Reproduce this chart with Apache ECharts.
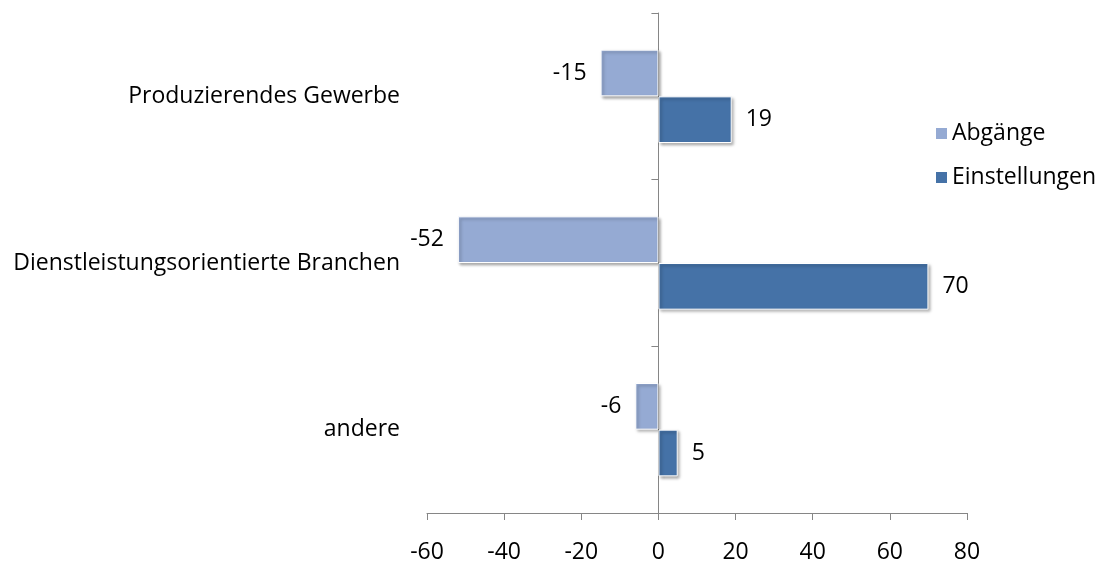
<!DOCTYPE html>
<html><head><meta charset="utf-8">
<script src="https://cdn.jsdelivr.net/npm/echarts@6/dist/echarts.min.js"></script>
<style>html,body{margin:0;padding:0;background:#fff}#c{width:1097px;height:565px}</style>
</head><body><div id="c"></div>
<script>
var categories = ['Produzierendes Gewerbe', 'Dienstleistungsorientierte Branchen', 'andere'];
var abgaenge = [-15, -52, -6];
var einstellungen = [19, 70, 5];
var xTicks = [-60, -40, -20, 0, 20, 40, 60, 80];

var FONT = 'Open Sans';
var FS = 23;
var axisColor = '#868686';

function mkData(arr) {
  return arr.map(function (v) {
    return { value: v, label: { position: v < 0 ? 'left' : 'right' } };
  });
}
var barStyle = function (c) {
  return {
    color: c, borderColor: '#ffffff', borderWidth: 1,
    shadowColor: 'rgba(0,0,0,0.35)', shadowBlur: 3, shadowOffsetX: 2, shadowOffsetY: 2
  };
};
var chart = echarts.init(document.getElementById('c'), null, { renderer: 'canvas' });
chart.setOption({
  animation: false,
  textStyle: { fontFamily: FONT },
  grid: { left: 427, right: 130, top: 13, bottom: 52, containLabel: false, outerBoundsMode: 'none' },
  legend: {
    orient: 'vertical', left: 931, top: 117, itemGap: 21, itemTextGap: 5,
    itemWidth: 11, itemHeight: 11, icon: 'rect',
    itemStyle: { borderWidth: 0, shadowBlur: 0, shadowOffsetX: 0, shadowOffsetY: 0, shadowColor: 'transparent' },
    textStyle: { fontFamily: FONT, fontSize: FS, color: '#000' },
    data: ['Abgänge', 'Einstellungen']
  },
  xAxis: {
    type: 'value', min: xTicks[0], max: xTicks[xTicks.length - 1], interval: 20,
    splitLine: { show: false },
    axisLine: { show: true, onZero: false, lineStyle: { color: axisColor, width: 1 } },
    axisTick: { show: true, length: 7, lineStyle: { color: axisColor } },
    axisLabel: { fontFamily: FONT, fontSize: FS, color: '#000', margin: 28 }
  },
  yAxis: {
    type: 'category', data: categories, inverse: true,
    axisLine: { show: true, onZero: true, lineStyle: { color: axisColor, width: 1 } },
    axisTick: { show: true, length: 7, lineStyle: { color: axisColor } },
    axisLabel: { fontFamily: FONT, fontSize: FS, color: '#000', margin: 27 }
  },
  series: [
    {
      name: 'Abgänge', type: 'bar', data: mkData(abgaenge),
      barGap: '0%', barCategoryGap: '44%',
      itemStyle: barStyle('#95AAD3'),
      label: { show: true, fontFamily: FONT, fontSize: FS, color: '#000', distance: 14 }
    },
    {
      name: 'Einstellungen', type: 'bar', data: mkData(einstellungen),
      barGap: '0%', barCategoryGap: '44%',
      itemStyle: barStyle('#4572A7'),
      label: { show: true, fontFamily: FONT, fontSize: FS, color: '#000', distance: 14 }
    }
  ]
});
</script></body></html>
